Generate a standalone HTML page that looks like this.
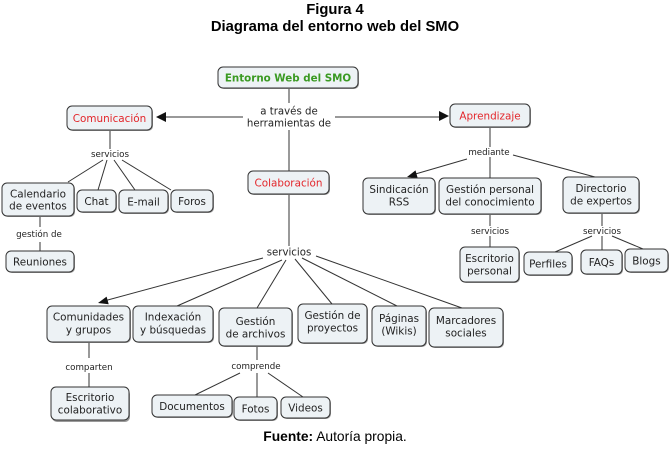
<!DOCTYPE html>
<html><head><meta charset="utf-8"><style>
html,body{margin:0;padding:0;background:#fff;}
svg{display:block;}
.bx{fill:#edf2f5;stroke:#333;stroke-width:1;}
.sh{fill:#9a9a9a;}
.t{font-family:"DejaVu Sans",sans-serif;font-size:10.4px;fill:#222;text-anchor:middle;}
.l{font-family:"DejaVu Sans",sans-serif;font-size:8.7px;fill:#222;text-anchor:middle;}
.lb{font-family:"DejaVu Sans",sans-serif;font-size:10.2px;fill:#222;text-anchor:middle;}
.ln{stroke:#333;stroke-width:1;fill:none;}
.h{font-family:"Liberation Sans",Arial,sans-serif;font-weight:bold;font-size:14.8px;fill:#000;text-anchor:middle;}
</style></head><body>
<svg width="671" height="450" viewBox="0 0 671 450" xmlns="http://www.w3.org/2000/svg">
<rect width="671" height="450" fill="#fff"/>
<text class="h" x="335" y="14">Figura 4</text>
<text class="h" x="335" y="31">Diagrama del entorno web del SMO</text>

<!-- connectors -->
<g class="ln">
<line x1="289" y1="88" x2="289" y2="103"/>
<line x1="165" y1="117" x2="243" y2="117"/>
<line x1="335" y1="117" x2="440" y2="117"/>
<line x1="289" y1="130" x2="289" y2="171"/>
<line x1="289" y1="194" x2="289" y2="246"/>
<!-- comunicacion -->
<line x1="110" y1="130" x2="110" y2="149"/>
<line x1="103" y1="160" x2="68" y2="182"/>
<line x1="107" y1="160" x2="98" y2="190"/>
<line x1="114" y1="160" x2="135" y2="190"/>
<line x1="122" y1="160" x2="171" y2="190"/>
<line x1="40" y1="216" x2="40" y2="227"/>
<line x1="40" y1="242" x2="40" y2="251"/>
<!-- aprendizaje -->
<line x1="490" y1="127" x2="490" y2="147"/>
<line x1="490" y1="157" x2="490" y2="178"/>
<line x1="467" y1="159" x2="412" y2="175"/>
<line x1="513" y1="155" x2="595" y2="177"/>
<line x1="490" y1="214" x2="490" y2="226"/>
<line x1="490" y1="236" x2="490" y2="247"/>
<line x1="602" y1="213" x2="602" y2="226"/>
<line x1="592" y1="236" x2="555" y2="252"/>
<line x1="602" y1="236" x2="602" y2="250"/>
<line x1="612" y1="236" x2="643" y2="249"/>
<!-- colaboracion -->
<line x1="263" y1="258" x2="104" y2="301"/>
<line x1="282" y1="260" x2="177" y2="306"/>
<line x1="286" y1="260" x2="257" y2="308"/>
<line x1="295" y1="259" x2="332" y2="304"/>
<line x1="302" y1="258" x2="397" y2="306"/>
<line x1="316" y1="256" x2="462" y2="308"/>
<line x1="89" y1="342" x2="89" y2="358"/>
<line x1="89" y1="373" x2="89" y2="387"/>
<line x1="257" y1="346" x2="257" y2="360"/>
<line x1="240" y1="373" x2="195" y2="395"/>
<line x1="257" y1="373" x2="257" y2="397"/>
<line x1="268" y1="373" x2="303" y2="397"/>
</g>
<g fill="#111">
<polygon points="156,117 166,112 166,122"/>
<polygon points="449,116 439,111 439,121"/>
<polygon points="98,303 108.7,304.3 106.6,296.6"/>
<polygon points="407,177 417.7,178.1 415.5,170.4"/>
</g>

<!-- boxes -->
<g>
<rect class="sh" x="219" y="68" width="140" height="21" rx="5"/><rect class="bx" x="218" y="67" width="140" height="21" rx="5"/>
<rect class="sh" x="68" y="107" width="85" height="24" rx="5"/><rect class="bx" x="67" y="106" width="85" height="24" rx="5"/>
<rect class="sh" x="451" y="105" width="80" height="23" rx="5"/><rect class="bx" x="450" y="104" width="80" height="23" rx="5"/>
<rect class="sh" x="249" y="172" width="81" height="23" rx="5"/><rect class="bx" x="248" y="171" width="81" height="23" rx="5"/>
<rect class="sh" x="3" y="184" width="72" height="33" rx="5"/><rect class="bx" x="2" y="183" width="72" height="33" rx="5"/>
<rect class="sh" x="78" y="191" width="39" height="22" rx="5"/><rect class="bx" x="77" y="190" width="39" height="22" rx="5"/>
<rect class="sh" x="120" y="191" width="49" height="23" rx="5"/><rect class="bx" x="119" y="190" width="49" height="23" rx="5"/>
<rect class="sh" x="172" y="191" width="42" height="22" rx="5"/><rect class="bx" x="171" y="190" width="42" height="22" rx="5"/>
<rect class="sh" x="7" y="252" width="68" height="21" rx="5"/><rect class="bx" x="6" y="251" width="68" height="21" rx="5"/>
<rect class="sh" x="364" y="179" width="72" height="36" rx="5"/><rect class="bx" x="363" y="178" width="72" height="36" rx="5"/>
<rect class="sh" x="440" y="179" width="102" height="36" rx="5"/><rect class="bx" x="439" y="178" width="102" height="36" rx="5"/>
<rect class="sh" x="564" y="178" width="76" height="36" rx="5"/><rect class="bx" x="563" y="177" width="76" height="36" rx="5"/>
<rect class="sh" x="461" y="248" width="59" height="35" rx="5"/><rect class="bx" x="460" y="247" width="59" height="35" rx="5"/>
<rect class="sh" x="525" y="253" width="48" height="23" rx="5"/><rect class="bx" x="524" y="252" width="48" height="23" rx="5"/>
<rect class="sh" x="582" y="251" width="41" height="24" rx="5"/><rect class="bx" x="581" y="250" width="41" height="24" rx="5"/>
<rect class="sh" x="626" y="250" width="43" height="23" rx="5"/><rect class="bx" x="625" y="249" width="43" height="23" rx="5"/>
<rect class="sh" x="48" y="307" width="83" height="36" rx="5"/><rect class="bx" x="47" y="306" width="83" height="36" rx="5"/>
<rect class="sh" x="134" y="307" width="80" height="36" rx="5"/><rect class="bx" x="133" y="306" width="80" height="36" rx="5"/>
<rect class="sh" x="220" y="309" width="73" height="38" rx="5"/><rect class="bx" x="219" y="308" width="73" height="38" rx="5"/>
<rect class="sh" x="299" y="305" width="69" height="39" rx="5"/><rect class="bx" x="298" y="304" width="69" height="39" rx="5"/>
<rect class="sh" x="373" y="307" width="54" height="40" rx="5"/><rect class="bx" x="372" y="306" width="54" height="40" rx="5"/>
<rect class="sh" x="430" y="309" width="74" height="39" rx="5"/><rect class="bx" x="429" y="308" width="74" height="39" rx="5"/>
<rect class="sh" x="52" y="389" width="78" height="33" rx="5" fill="#222"/><rect class="bx" x="51" y="387" width="78" height="33" rx="5"/>
<rect class="sh" x="153" y="396" width="80" height="22" rx="5"/><rect class="bx" x="152" y="395" width="80" height="22" rx="5"/>
<rect class="sh" x="235" y="398" width="43" height="23" rx="5"/><rect class="bx" x="234" y="397" width="43" height="23" rx="5"/>
<rect class="sh" x="282" y="398" width="49" height="21" rx="5"/><rect class="bx" x="281" y="397" width="49" height="21" rx="5"/>
</g>

<!-- box text -->
<text class="t" x="288" y="81.5" style="font-weight:bold;fill:#3a9a22;font-size:10.3px">Entorno Web del SMO</text>
<text class="t" x="109.5" y="122" style="fill:#e3262b">Comunicación</text>
<text class="t" x="490" y="119.5" style="fill:#e3262b">Aprendizaje</text>
<text class="t" x="288.5" y="186.5" style="fill:#e3262b">Colaboración</text>
<text class="t" x="38" y="197.5">Calendario</text><text class="t" x="38" y="209.5">de eventos</text>
<text class="t" x="96.5" y="205">Chat</text>
<text class="t" x="143.5" y="205.5">E-mail</text>
<text class="t" x="192" y="205">Foros</text>
<text class="t" x="40" y="265.5">Reuniones</text>
<text class="t" x="399" y="193">Sindicación</text><text class="t" x="399" y="205.5">RSS</text>
<text class="t" x="490" y="193">Gestión personal</text><text class="t" x="490" y="205.5">del conocimiento</text>
<text class="t" x="601" y="192">Directorio</text><text class="t" x="601" y="204.5">de expertos</text>
<text class="t" x="489.5" y="262">Escritorio</text><text class="t" x="489.5" y="274.5">personal</text>
<text class="t" x="548" y="267.5">Perfiles</text>
<text class="t" x="601.5" y="266">FAQs</text>
<text class="t" x="646.5" y="264.5">Blogs</text>
<text class="t" x="88.5" y="320.5">Comunidades</text><text class="t" x="88.5" y="333.5">y grupos</text>
<text class="t" x="173" y="320.5">Indexación</text><text class="t" x="173" y="333.5">y búsquedas</text>
<text class="t" x="255.5" y="325">Gestión</text><text class="t" x="255.5" y="337.5">de archivos</text>
<text class="t" x="332.5" y="319">Gestión de</text><text class="t" x="332.5" y="331.5">proyectos</text>
<text class="t" x="399" y="322">Páginas</text><text class="t" x="399" y="334.5">(Wikis)</text>
<text class="t" x="466" y="324">Marcadores</text><text class="t" x="466" y="336.5">sociales</text>
<text class="t" x="90" y="401">Escritorio</text><text class="t" x="90" y="413.5">colaborativo</text>
<text class="t" x="192" y="410">Documentos</text>
<text class="t" x="255.5" y="412.5">Fotos</text>
<text class="t" x="305.5" y="411.5">Videos</text>

<!-- link labels -->
<text class="lb" x="289" y="114.5">a través de</text>
<text class="lb" x="289" y="126.5">herramientas de</text>
<text class="l" x="110" y="157">servicios</text>
<text class="l" x="39" y="237">gestión de</text>
<text class="l" x="489" y="155">mediante</text>
<text class="l" x="490" y="234">servicios</text>
<text class="l" x="602" y="234">servicios</text>
<text class="lb" x="289" y="255.5">servicios</text>
<text class="l" x="89" y="370">comparten</text>
<text class="l" x="256" y="369">comprende</text>

<text x="335" y="441" style="font-family:'Liberation Sans',Arial,sans-serif;font-size:13.8px;text-anchor:middle;fill:#000"><tspan font-weight="bold">Fuente:</tspan> Autoría propia.</text>
</svg>
</body></html>
